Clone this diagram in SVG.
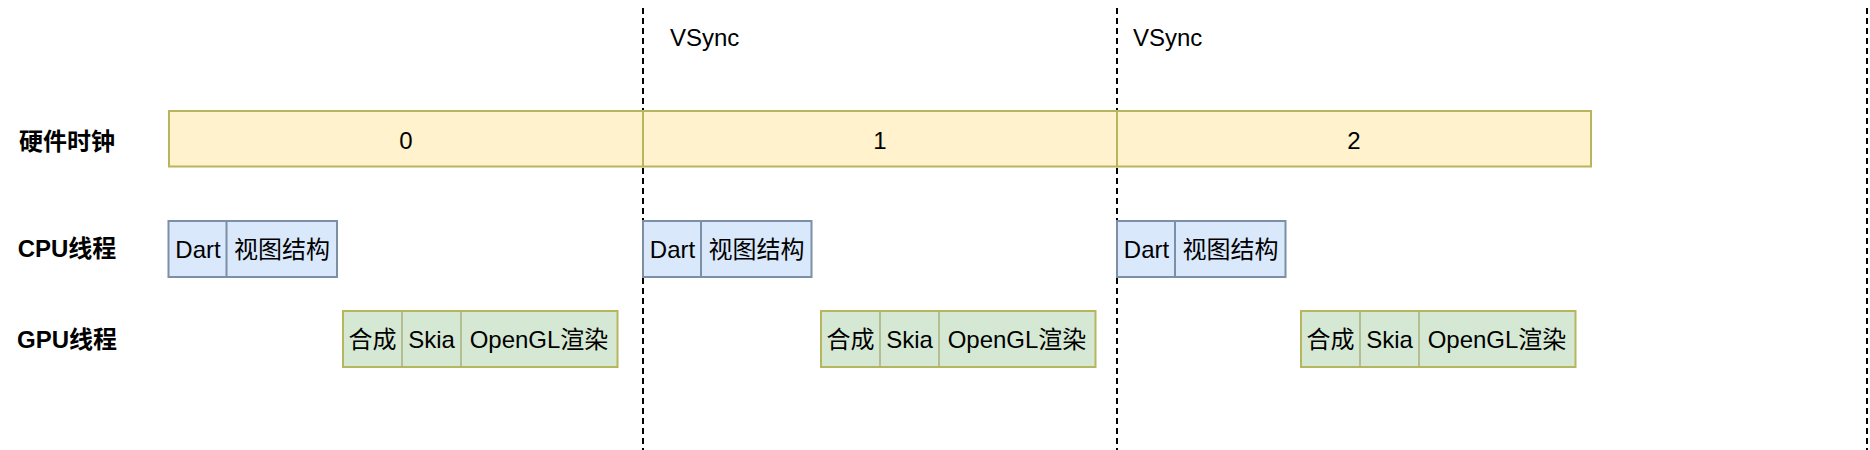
<svg xmlns="http://www.w3.org/2000/svg" width="1870" height="450" viewBox="0 0 1870 450">
  <style>
    text { font-family: "Liberation Sans", "Noto Sans CJK SC", sans-serif; font-size: 24px; fill: #000; }
    .lbl { font-weight: bold; text-anchor: middle; }
    .mid { text-anchor: middle; }
    .vline { stroke: #000; stroke-width: 2; stroke-dasharray: 6 4; fill: none; }
    .seg { fill: #fff2cc; stroke: #b5b65e; stroke-width: 2; }
    .cpu { fill: #dae8fc; stroke: #7b90a6; stroke-width: 2; }
    .cpudiv { stroke: #7b90a6; stroke-width: 2; }
    .gpu { fill: #d5e8d4; stroke: #b5b65e; stroke-width: 2; }
    .gpudiv { stroke: #a9b07a; stroke-width: 1.5; }
  </style>
  <rect width="1870" height="450" fill="#ffffff"/>

  <g id="connectors">
    <line class="vline" x1="643" y1="8" x2="643" y2="450"/>
    <line class="vline" x1="1117" y1="8" x2="1117" y2="450"/>
    <line class="vline" x1="1867" y1="8" x2="1867" y2="450"/>
  </g>

  <g id="row-labels">
    <text class="lbl" x="67" y="149.5">硬件时钟</text>
    <text class="lbl" x="67" y="257">CPU线程</text>
    <text class="lbl" x="67" y="348">GPU线程</text>
  </g>

  <g id="vsync-labels">
    <text x="670" y="46">VSync</text>
    <text x="1133" y="46">VSync</text>
  </g>

  <g id="clock-0">
    <rect class="seg" x="169" y="111" width="474" height="55.5"/>
    <text class="mid" x="406" y="148.5">0</text>
  </g>
  <g id="clock-1">
    <rect class="seg" x="643" y="111" width="474" height="55.5"/>
    <text class="mid" x="880" y="148.5">1</text>
  </g>
  <g id="clock-2">
    <rect class="seg" x="1117" y="111" width="474" height="55.5"/>
    <text class="mid" x="1354" y="148.5">2</text>
  </g>

  <g id="cpu-0">
    <rect class="cpu" x="168.5" y="221" width="168.5" height="56"/>
    <line class="cpudiv" x1="226.5" y1="221" x2="226.5" y2="277"/>
    <text class="mid" x="198" y="257.5">Dart</text>
    <text class="mid" x="282" y="257.5">视图结构</text>
  </g>
  <g id="cpu-1">
    <rect class="cpu" x="643" y="221" width="168.5" height="56"/>
    <line class="cpudiv" x1="701" y1="221" x2="701" y2="277"/>
    <text class="mid" x="672.5" y="257.5">Dart</text>
    <text class="mid" x="756.5" y="257.5">视图结构</text>
  </g>
  <g id="cpu-2">
    <rect class="cpu" x="1117" y="221" width="168.5" height="56"/>
    <line class="cpudiv" x1="1175" y1="221" x2="1175" y2="277"/>
    <text class="mid" x="1146.5" y="257.5">Dart</text>
    <text class="mid" x="1230.5" y="257.5">视图结构</text>
  </g>

  <g id="gpu-0">
    <rect class="gpu" x="343" y="311" width="274.5" height="56"/>
    <line class="gpudiv" x1="402" y1="311" x2="402" y2="367"/>
    <line class="gpudiv" x1="461" y1="311" x2="461" y2="367"/>
    <text class="mid" x="372.5" y="347.5">合成</text>
    <text class="mid" x="431.5" y="347.5">Skia</text>
    <text class="mid" x="539" y="347.5">OpenGL渲染</text>
  </g>
  <g id="gpu-1">
    <rect class="gpu" x="821" y="311" width="274.5" height="56"/>
    <line class="gpudiv" x1="880" y1="311" x2="880" y2="367"/>
    <line class="gpudiv" x1="939" y1="311" x2="939" y2="367"/>
    <text class="mid" x="850.5" y="347.5">合成</text>
    <text class="mid" x="909.5" y="347.5">Skia</text>
    <text class="mid" x="1017" y="347.5">OpenGL渲染</text>
  </g>
  <g id="gpu-2">
    <rect class="gpu" x="1301" y="311" width="274.5" height="56"/>
    <line class="gpudiv" x1="1360" y1="311" x2="1360" y2="367"/>
    <line class="gpudiv" x1="1419" y1="311" x2="1419" y2="367"/>
    <text class="mid" x="1330.5" y="347.5">合成</text>
    <text class="mid" x="1389.5" y="347.5">Skia</text>
    <text class="mid" x="1497" y="347.5">OpenGL渲染</text>
  </g>
</svg>
